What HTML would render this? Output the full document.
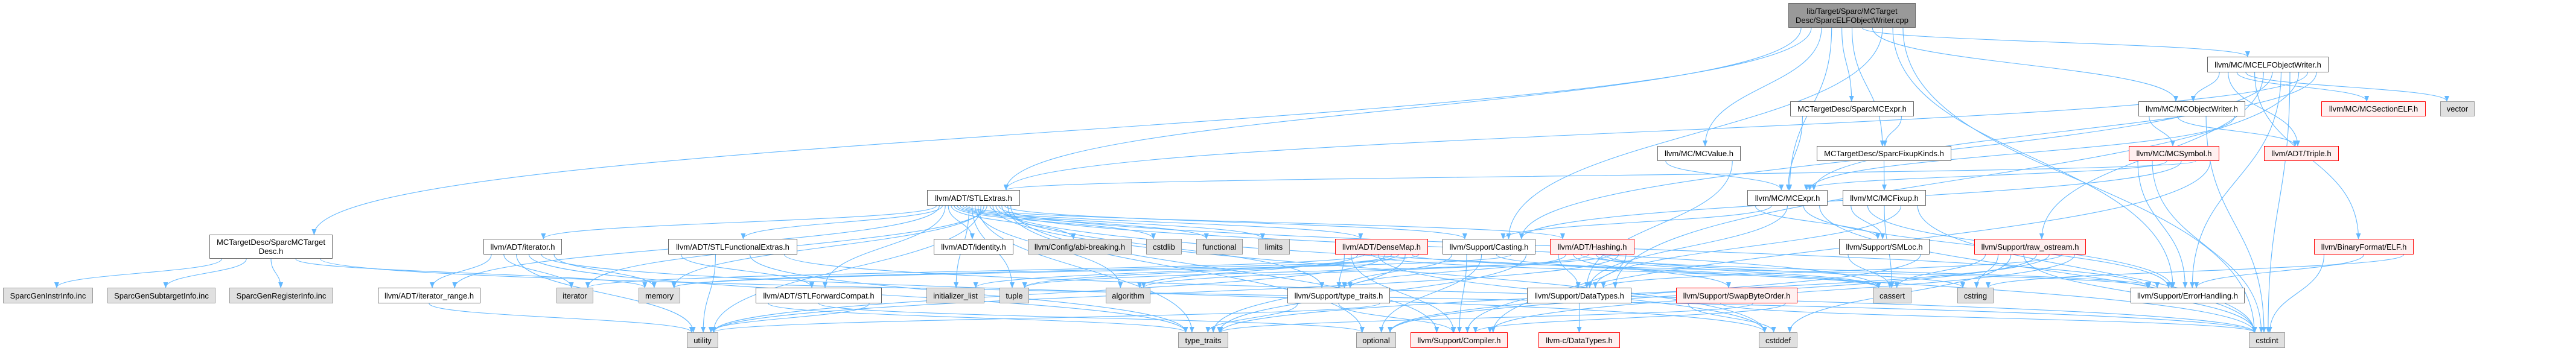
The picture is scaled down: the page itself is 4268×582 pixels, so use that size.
<!DOCTYPE html>
<html><head><meta charset="utf-8">
<style>
html,body{margin:0;padding:0;background:#fff;}
body{width:4268px;height:582px;position:relative;overflow:hidden;font-family:"Liberation Sans",Arial,sans-serif;}
svg{position:absolute;left:0;top:0;}
.n{position:absolute;box-sizing:border-box;border:1px solid #666;background:#fff;font-size:13px;color:#000;display:flex;align-items:center;justify-content:center;text-align:center;white-space:nowrap;line-height:15px;}
.g{background:#e0e0e0;border-color:#999;}
.r{background:#fff0f0;border-color:#f00;}
.root{background:#999;border-color:#666;}
</style></head><body>
<svg id="e" width="4268" height="582" viewBox="0 0 4268 582">
<defs><marker id="a" markerWidth="10" markerHeight="8" refX="9" refY="4" orient="auto" markerUnits="userSpaceOnUse"><path d="M0,0 L10,4 L0,8 z" fill="#63b8ff"/></marker></defs>
</svg>
<div class="n root" id="root" style="left:2963px;top:5px;width:211px;height:41px;">lib/Target/Sparc/MCTarget<br>Desc/SparcELFObjectWriter.cpp</div>
<div class="n" id="elfow" style="left:3657px;top:94px;width:201px;height:26px;">llvm/MC/MCELFObjectWriter.h</div>
<div class="n" id="smcexpr" style="left:2966px;top:168px;width:205px;height:25px;">MCTargetDesc/SparcMCExpr.h</div>
<div class="n" id="objw" style="left:3543px;top:168px;width:177px;height:25px;">llvm/MC/MCObjectWriter.h</div>
<div class="n r" id="secelf" style="left:3846px;top:168px;width:173px;height:25px;">llvm/MC/MCSectionELF.h</div>
<div class="n g" id="vector" style="left:4043px;top:168px;width:57px;height:25px;">vector</div>
<div class="n" id="mcvalue" style="left:2746px;top:242px;width:138px;height:25px;">llvm/MC/MCValue.h</div>
<div class="n" id="fixk" style="left:3010px;top:242px;width:223px;height:25px;">MCTargetDesc/SparcFixupKinds.h</div>
<div class="n r" id="sym" style="left:3527px;top:242px;width:150px;height:25px;">llvm/MC/MCSymbol.h</div>
<div class="n r" id="triple" style="left:3751px;top:242px;width:124px;height:25px;">llvm/ADT/Triple.h</div>
<div class="n" id="stlx" style="left:1536px;top:315px;width:154px;height:26px;">llvm/ADT/STLExtras.h</div>
<div class="n" id="mcexpr" style="left:2895px;top:315px;width:133px;height:26px;">llvm/MC/MCExpr.h</div>
<div class="n" id="mcfix" style="left:3053px;top:315px;width:138px;height:26px;">llvm/MC/MCFixup.h</div>
<div class="n" id="smctd" style="left:347px;top:389px;width:204px;height:40px;">MCTargetDesc/SparcMCTarget<br>Desc.h</div>
<div class="n" id="iter" style="left:801px;top:396px;width:130px;height:26px;">llvm/ADT/iterator.h</div>
<div class="n" id="stlfe" style="left:1107px;top:396px;width:214px;height:26px;">llvm/ADT/STLFunctionalExtras.h</div>
<div class="n" id="ident" style="left:1547px;top:396px;width:132px;height:26px;">llvm/ADT/identity.h</div>
<div class="n g" id="abi" style="left:1703px;top:396px;width:172px;height:26px;">llvm/Config/abi-breaking.h</div>
<div class="n g" id="cstdlib" style="left:1899px;top:396px;width:59px;height:26px;">cstdlib</div>
<div class="n g" id="functional" style="left:1982px;top:396px;width:77px;height:26px;">functional</div>
<div class="n g" id="limits" style="left:2084px;top:396px;width:53px;height:26px;">limits</div>
<div class="n r" id="dense" style="left:2212px;top:396px;width:154px;height:26px;">llvm/ADT/DenseMap.h</div>
<div class="n" id="casting" style="left:2390px;top:396px;width:154px;height:26px;">llvm/Support/Casting.h</div>
<div class="n r" id="hashing" style="left:2568px;top:396px;width:140px;height:26px;">llvm/ADT/Hashing.h</div>
<div class="n" id="smloc" style="left:3047px;top:396px;width:150px;height:26px;">llvm/Support/SMLoc.h</div>
<div class="n r" id="rawos" style="left:3271px;top:396px;width:185px;height:26px;">llvm/Support/raw_ostream.h</div>
<div class="n r" id="elf" style="left:3834px;top:396px;width:165px;height:26px;">llvm/BinaryFormat/ELF.h</div>
<div class="n g" id="gi" style="left:5px;top:477px;width:149px;height:26px;">SparcGenInstrInfo.inc</div>
<div class="n g" id="gs" style="left:178px;top:477px;width:179px;height:26px;">SparcGenSubtargetInfo.inc</div>
<div class="n g" id="gr" style="left:380px;top:477px;width:172px;height:26px;">SparcGenRegisterInfo.inc</div>
<div class="n" id="itrange" style="left:626px;top:477px;width:170px;height:26px;">llvm/ADT/iterator_range.h</div>
<div class="n g" id="iterator" style="left:922px;top:477px;width:61px;height:26px;">iterator</div>
<div class="n g" id="memory" style="left:1058px;top:477px;width:69px;height:26px;">memory</div>
<div class="n" id="stlfc" style="left:1252px;top:477px;width:209px;height:26px;">llvm/ADT/STLForwardCompat.h</div>
<div class="n g" id="initl" style="left:1535px;top:477px;width:96px;height:26px;">initializer_list</div>
<div class="n g" id="tuple" style="left:1656px;top:477px;width:49px;height:26px;">tuple</div>
<div class="n g" id="algo" style="left:1832px;top:477px;width:74px;height:26px;">algorithm</div>
<div class="n" id="stt" style="left:2133px;top:477px;width:170px;height:26px;">llvm/Support/type_traits.h</div>
<div class="n" id="dt" style="left:2530px;top:477px;width:173px;height:26px;">llvm/Support/DataTypes.h</div>
<div class="n r" id="swap" style="left:2777px;top:477px;width:201px;height:26px;">llvm/Support/SwapByteOrder.h</div>
<div class="n g" id="cassert" style="left:3103px;top:477px;width:64px;height:26px;">cassert</div>
<div class="n g" id="cstring" style="left:3243px;top:477px;width:60px;height:26px;">cstring</div>
<div class="n" id="errh" style="left:3530px;top:477px;width:189px;height:26px;">llvm/Support/ErrorHandling.h</div>
<div class="n g" id="utility" style="left:1138px;top:551px;width:52px;height:26px;">utility</div>
<div class="n g" id="tt" style="left:1952px;top:551px;width:83px;height:26px;">type_traits</div>
<div class="n g" id="optional" style="left:2247px;top:551px;width:66px;height:26px;">optional</div>
<div class="n r" id="compiler" style="left:2337px;top:551px;width:161px;height:26px;">llvm/Support/Compiler.h</div>
<div class="n r" id="cdt" style="left:2549px;top:551px;width:135px;height:26px;">llvm-c/DataTypes.h</div>
<div class="n g" id="cstddef" style="left:2914px;top:551px;width:64px;height:26px;">cstddef</div>
<div class="n g" id="cstdint" style="left:3726px;top:551px;width:60px;height:26px;">cstdint</div>
<script>
(function(){
var E={
root:["stlx","smctd","mcvalue","mcexpr","smcexpr","fixk","elfow","objw","casting","errh","cstdint"],
smctd:["gi","gs","gr","memory","cstdint"],
stlx:["iter","itrange","stlfe","stlfc","ident","abi","cstdlib","functional","limits","dense","hashing","initl","tuple","algo","tt","utility","memory","iterator","cassert","cstddef","cstdint","errh","stt","casting","optional","compiler"],
iter:["itrange","iterator","utility","tt","cstddef","memory"],
itrange:["utility"],
stlfe:["stlfc","utility","tt","cstdint"],
stlfc:["tt","optional","utility"],
dense:["stt","compiler","algo","iterator","cassert","cstddef","utility","initl","tuple","tt","errh","memory"],
casting:["stt","compiler","optional","cassert","memory","tt"],
hashing:["dt","stt","swap","errh","algo","cassert","cstring","tuple","utility","compiler"],
stt:["tt","compiler","utility"],
dt:["cdt"],
swap:["cstddef","cstdint","tt","compiler"],
mcvalue:["mcexpr","dt"],
smcexpr:["mcexpr","fixk"],
fixk:["mcfix"],
mcexpr:["smloc","casting","dt","errh","cstdint"],
mcfix:["smloc","errh","cassert","dt","cstdint"],
smloc:["cassert","optional"],
rawos:["cassert","cstring","cstddef","cstdint","optional","tt","dt","compiler"],
elfow:["objw","triple","secelf","vector","elf","rawos","casting","errh","cstdint","dt","stlx","mcexpr"],
objw:["sym","triple","cstdint","mcexpr"],
sym:["errh","cstdint","mcexpr","casting","stlx","compiler"],
elf:["cstdint","errh","cstring"]
};
function box(id){var d=document.getElementById(id);return {x:d.offsetLeft,y:d.offsetTop,w:d.offsetWidth,h:d.offsetHeight};}
var svg=document.getElementById('e'),ns="http://www.w3.org/2000/svg",out="";
for(var s in E){var a=box(s);E[s].forEach(function(t,i){var b=box(t);
 var sx=a.x+a.w/2,sy=a.y+a.h,tx=b.x+b.w/2,ty=b.y,p;
 var cnt=E[s].length;sx+= (cnt>1? (i/(cnt-1)-0.5)*a.w*0.8:0);
 if(b.y<=a.y+a.h){ // same row or above-ish
   sy=a.y+a.h/2;sx=(b.x>a.x)?a.x+a.w:a.x;ty=b.y+b.h/2;tx=(b.x>a.x)?b.x:b.x+b.w;
   p="M"+sx+","+sy+" C"+(sx+tx)/2+","+(sy+40)+" "+(sx+tx)/2+","+(ty+40)+" "+tx+","+ty;
 } else {
   var dy=ty-sy;
   tx+= Math.max(-b.w*0.35,Math.min(b.w*0.35,(sx-tx)*0.05));
   p="M"+sx.toFixed(1)+","+sy+" C"+sx.toFixed(1)+","+(sy+dy*0.5)+" "+tx.toFixed(1)+","+(ty-dy*0.5)+" "+tx.toFixed(1)+","+ty;
 }
 out+='<path d="'+p+'" fill="none" stroke="#63b8ff" stroke-width="1.1" marker-end="url(#a)"/>';
});}
svg.insertAdjacentHTML('beforeend',out);
})();
</script>
</body></html>
